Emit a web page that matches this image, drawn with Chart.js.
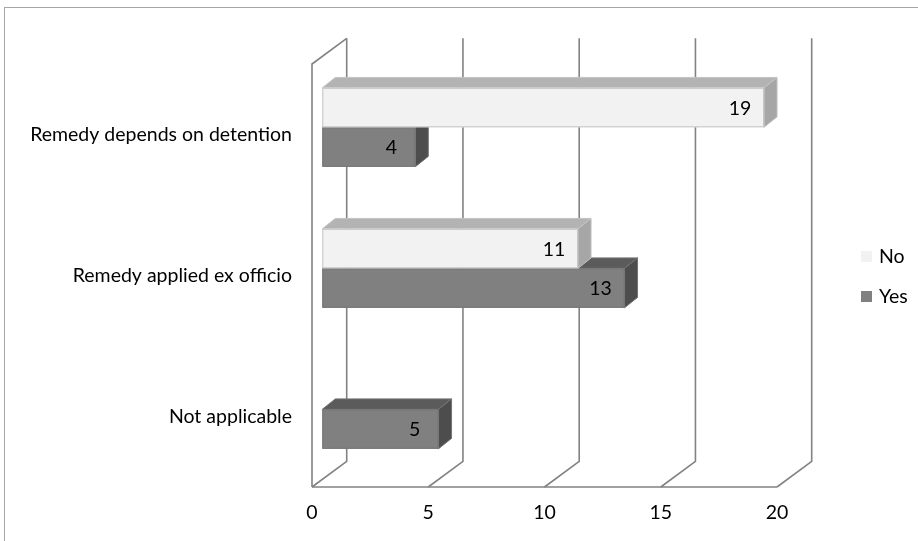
<!DOCTYPE html>
<html>
<head>
<meta charset="utf-8">
<script src="https://cdn.jsdelivr.net/npm/chart.js@4.4.1/dist/chart.umd.min.js"></script>
<style>
  html, body { margin: 0; padding: 0; background: #ffffff; }
  #wrap { position: relative; width: 918px; height: 541px; }
</style>
</head>
<body>
<div id="wrap"><canvas id="c" width="918" height="541"></canvas></div>
<script>
// Survey answers per remedy situation
const categories = ['Remedy depends on detention', 'Remedy applied ex officio', 'Not applicable'];
const seriesNames = ['No', 'Yes'];
const noValues = [19, 11, null];
const yesValues = [4, 13, 5];
const axisMin = 0;
const axisMax = 20;
const axisStep = 5;

const FONT = 'Lato, "Open Sans", "DejaVu Sans", sans-serif';
const FONT_SIZE = 19.5;
const faceColors = {
  No:  { front: '#f2f2f2', top: '#b3b3b3', side: '#a6a6a6', edge: '#c4c4c4' },
  Yes: { front: '#808080', top: '#5b5b5b', side: '#4d4d4d', edge: '#747474' }
};

// Depth of the 3D box (back wall offset) and of the bars inside it
const WALL = { dx: 34.7, dy: -25.7 };
const BAR_SHIFT = { dx: 10.3, dy: -7.2 };
const BAR_DEPTH = { dx: 13, dy: -10.4 };
const GRID_COLOR = '#828282';

const box3d = {
  id: 'box3d',
  beforeDraw(chart) {
    const ctx = chart.ctx;
    ctx.save();
    // outer frame of the chart object
    ctx.strokeStyle = '#a6a6a6';
    ctx.lineWidth = 1;
    ctx.strokeRect(4.5, 7.5, 940, 560);
    ctx.restore();
  },
  beforeDatasetsDraw(chart) {
    const ctx = chart.ctx;
    const a = chart.chartArea;
    const xs = chart.scales.x;
    ctx.save();
    ctx.strokeStyle = GRID_COLOR;
    ctx.lineWidth = 1.6;
    ctx.lineJoin = 'miter';
    // left side wall
    ctx.beginPath();
    ctx.moveTo(a.left, a.bottom);
    ctx.lineTo(a.left, a.top);
    ctx.lineTo(a.left + WALL.dx, a.top + WALL.dy);
    ctx.stroke();
    // floor front edge
    ctx.beginPath();
    ctx.moveTo(a.left, a.bottom);
    ctx.lineTo(a.right, a.bottom);
    ctx.stroke();
    // back wall gridlines and floor diagonals
    xs.ticks.forEach(t => {
      const px = xs.getPixelForValue(t.value);
      ctx.beginPath();
      ctx.moveTo(px, a.bottom);
      ctx.lineTo(px + WALL.dx, a.bottom + WALL.dy);
      ctx.lineTo(px + WALL.dx, a.top + WALL.dy);
      ctx.stroke();
    });
    ctx.restore();
  },
  beforeDatasetDraw() {
    // bars are drawn as boxes below
    return false;
  },
  afterDatasetsDraw(chart) {
    const ctx = chart.ctx;
    const order = [1, 0]; // lower series first so the upper one sits in front
    order.forEach(di => {
      const meta = chart.getDatasetMeta(di);
      const ds = chart.data.datasets[di];
      const col = faceColors[ds.label];
      meta.data.forEach((el, i) => {
        const v = ds.data[i];
        if (v === null || v === undefined) return;
        const p = el.getProps(['x', 'y', 'base', 'height'], true);
        const x0 = p.base + BAR_SHIFT.dx;
        const x1 = p.x + BAR_SHIFT.dx;
        const yT = p.y - p.height / 2 + BAR_SHIFT.dy;
        const yB = p.y + p.height / 2 + BAR_SHIFT.dy;
        const bx = BAR_DEPTH.dx, by = BAR_DEPTH.dy;
        ctx.save();
        ctx.lineWidth = 1;
        ctx.strokeStyle = col.edge;
        // top face
        ctx.beginPath();
        ctx.moveTo(x0, yT);
        ctx.lineTo(x1, yT);
        ctx.lineTo(x1 + bx, yT + by);
        ctx.lineTo(x0 + bx, yT + by);
        ctx.closePath();
        ctx.fillStyle = col.top;
        ctx.fill();
        ctx.stroke();
        // end face
        ctx.beginPath();
        ctx.moveTo(x1, yT);
        ctx.lineTo(x1 + bx, yT + by);
        ctx.lineTo(x1 + bx, yB + by);
        ctx.lineTo(x1, yB);
        ctx.closePath();
        ctx.fillStyle = col.side;
        ctx.fill();
        ctx.stroke();
        // front face
        ctx.fillStyle = col.front;
        ctx.fillRect(x0, yT, x1 - x0, yB - yT);
        ctx.strokeRect(x0 + 0.5, yT + 0.5, x1 - x0 - 1, yB - yT - 1);
        // value label
        ctx.fillStyle = '#000000';
        ctx.font = FONT_SIZE + 'px ' + FONT;
        ctx.textAlign = 'center';
        ctx.textBaseline = 'middle';
        ctx.fillText(String(v), x1 - 24, (yT + yB) / 2 + 1);
        ctx.restore();
      });
    });
  },
  afterDraw(chart) {
    // legend on the right
    const ctx = chart.ctx;
    const items = chart.data.datasets.map(d => ({ label: d.label, color: d.backgroundColor }));
    ctx.save();
    ctx.font = FONT_SIZE + 'px ' + FONT;
    ctx.textAlign = 'left';
    ctx.textBaseline = 'middle';
    items.forEach((it, k) => {
      const cy = 256.5 + k * 40;
      ctx.fillStyle = it.color;
      ctx.fillRect(861, cy - 5.5, 11, 11);
      ctx.fillStyle = '#000000';
      ctx.fillText(it.label, 879, cy);
    });
    ctx.restore();
  }
};

new Chart(document.getElementById('c'), {
  type: 'bar',
  data: {
    labels: categories,
    datasets: [
      { label: seriesNames[0], data: noValues, backgroundColor: faceColors.No.front },
      { label: seriesNames[1], data: yesValues, backgroundColor: faceColors.Yes.front }
    ]
  },
  options: {
    indexAxis: 'y',
    responsive: false,
    animation: false,
    devicePixelRatio: 1,
    categoryPercentage: 0.56,
    barPercentage: 1,
    layout: { padding: { left: 0, right: 141, top: 64, bottom: 0 } },
    plugins: {
      legend: { display: false },
      tooltip: { enabled: false }
    },
    scales: {
      x: {
        min: axisMin,
        max: axisMax,
        ticks: { stepSize: axisStep, color: '#000000', padding: 14, font: { family: FONT, size: FONT_SIZE } },
        grid: { display: false, drawTicks: false },
        border: { display: false },
        afterFit(s) { s.height = 54; }
      },
      y: {
        ticks: { color: '#000000', padding: 20, font: { family: FONT, size: FONT_SIZE } },
        grid: { display: false, drawTicks: false },
        border: { display: false },
        afterFit(s) { s.width = 312; }
      }
    }
  },
  plugins: [box3d]
});
</script>
</body>
</html>
